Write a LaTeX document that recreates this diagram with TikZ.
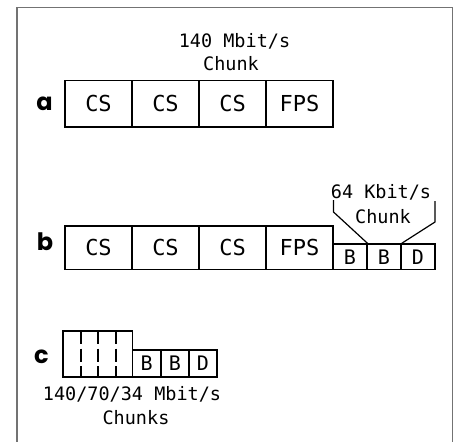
\documentclass[tikz,border=0pt]{standalone}
\usepackage{fontspec}
\newfontfamily\chunkfont{DejaVu Sans Mono}
\newfontfamily\tagfont{Poppins}
\begin{document}
\begin{tikzpicture}[x=1pt,y=-1pt,
    frame/.style={draw=black!55,line width=1.5pt},
    slot/.style={draw,line width=1.2pt,inner sep=0pt,minimum width=67,
      font=\chunkfont\fontsize{22}{24}\selectfont},
    small/.style={slot,minimum width=34,minimum height=25.5,
      font=\chunkfont\fontsize{20}{22}\selectfont},
    rate/.style={anchor=base,inner sep=0pt,font=\chunkfont\fontsize{18.5}{20}\selectfont},
    tag/.style={anchor=base,inner sep=0pt,font=\tagfont\bfseries\fontsize{24}{26}\selectfont}]
  \useasboundingbox (0,0) rectangle (456,442);
  \draw[frame] (17,442) -- (17,7.5) -- (452.5,7.5) -- (452.5,442);
  % a
  \node[tag] (la) at (44.5,110) {a};
  \node[rate] (ma) at (234.5,47) {140 Mbit/s};
  \node[rate] (ka) at (231,70) {Chunk};
  \draw
    (98.5,103.75) node[slot,minimum height=46.5] (a1){CS}
    (165.5,103.75) node[slot,minimum height=46.5] (a2){CS}
    (232.5,103.75) node[slot,minimum height=46.5] (a3){CS}
    (299.5,103.75) node[slot,minimum height=46.5] (a4){FPS};
  % b
  \node[tag] (lb) at (45,250) {b};
  \draw
    (98.5,247.75) node[slot,minimum height=43.5] (b1){CS}
    (165.5,247.75) node[slot,minimum height=43.5] (b2){CS}
    (232.5,247.75) node[slot,minimum height=43.5] (b3){CS}
    (299.5,247.75) node[slot,minimum height=43.5] (b4){FPS}
    (350,256.75) node[small] (b5){B}
    (384,256.75) node[small] (b6){B}
    (418,256.75) node[small] (b7){D};
  \node[rate] (mb) at (381,198) {64 Kbit/s};
  \node[rate] (kb) at (383,223) {Chunk};
  \coordinate (bl) at (333.5,200);
  \coordinate (br) at (435,201);
  \draw[line width=1.2pt] (bl) -- (333.5,212) -- (b5.north east);
  \draw[line width=1.2pt] (br) -- (435,222) -- (b6.north east);
  % c
  \node[tag] (lc) at (41.5,363) {c};
  \draw
    (97.75,354) node[slot,minimum width=69.5,minimum height=46] (c1){}
    (146.75,363.5) node[small,minimum width=28.5,minimum height=27] (c2){B}
    (175,363.5) node[small,minimum width=28,minimum height=27] (c3){B}
    (203,363.5) node[small,minimum width=28,minimum height=27] (c4){D};
  \foreach \x in {81,98,116}
    \draw[line width=1.2pt,dash pattern=on 13pt off 4.5pt] (\x,331) -- (\x,377);
  \node[rate] (mc) at (132,400) {140/70/34 Mbit/s};
  \node[rate] (kc) at (136,424) {Chunks};
\end{tikzpicture}
\end{document}
